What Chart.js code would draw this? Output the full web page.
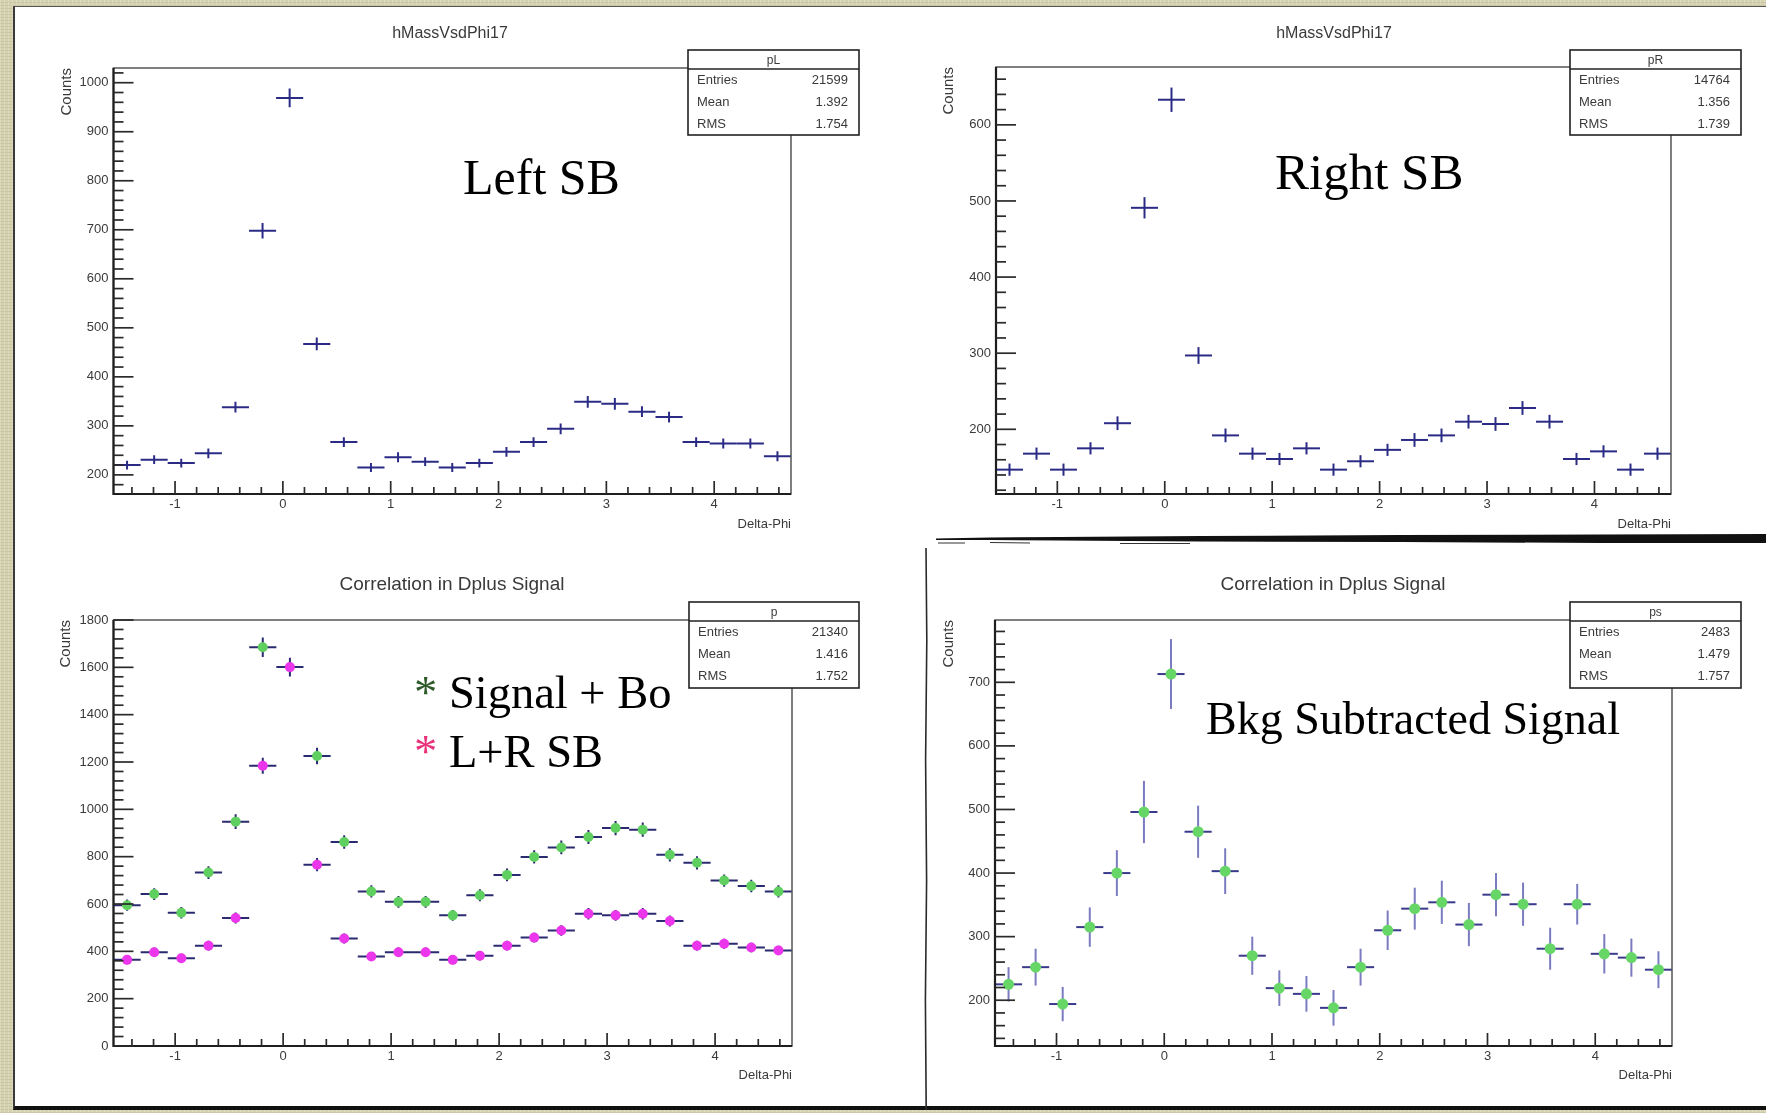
<!DOCTYPE html>
<html>
<head>
<meta charset="utf-8">
<title>Delta-Phi correlations</title>
<script src="https://cdn.jsdelivr.net/npm/chart.js@4.4.1/dist/chart.umd.min.js"></script>
<style>
  html, body { margin: 0; padding: 0; }
  body {
    width: 1766px; height: 1113px; position: relative; overflow: hidden;
    background-color: #d5d2b1;
    background-image:
      repeating-linear-gradient(0deg, rgba(110,105,70,0.12) 0 1px, transparent 1px 3px),
      repeating-linear-gradient(90deg, rgba(255,255,235,0.22) 0 1px, transparent 1px 4px);
  }
  #sheet {
    position: absolute; left: 13px; top: 6px; width: 1753px; height: 1104px;
    background: #fff; box-sizing: border-box;
    border-left: 2px solid #3a3a3a; border-top: 1px solid #555; border-bottom: 4px solid #111;
  }
  canvas.pad { position: absolute; filter: blur(0.7px); }
  #ink { position: absolute; left: 0; top: 0; }
</style>
</head>
<body>
<div id="sheet"></div>
<canvas class="pad" id="padL"></canvas>
<canvas class="pad" id="padR"></canvas>
<canvas class="pad" id="padSig"></canvas>
<canvas class="pad" id="padSub"></canvas>

<svg id="ink" width="1766" height="1113" xmlns="http://www.w3.org/2000/svg">
  <!-- pen strokes separating the subtracted panel -->
  <path d="M936 538.5 L990 537.5 L1060 537 L1200 536 L1400 535 L1600 534.5 L1766 534
           L1766 543 L1600 543 L1400 542 L1200 541.5 L1060 540.5 L990 540 L936 540 Z" fill="#111"/>
  <path d="M938 543 L965 543 M990 542.5 L1030 543 M1120 543.5 L1190 543.5" stroke="#333" stroke-width="1" fill="none"/>
  <path d="M926 548 L926.8 640 L925.6 760 L926.6 880 L925.4 1000 L926.2 1110"
        stroke="#2a2a2a" stroke-width="1.6" fill="none"/>
  <g font-family="'Liberation Serif', 'Times New Roman', serif" fill="#000">
    <text x="463" y="194" font-size="50">Left SB</text>
    <text x="1275" y="189" font-size="51">Right SB</text>
    <text x="414" y="708" font-size="46.5"><tspan fill="#2f5a2a">*</tspan> Signal + Bo</text>
    <text x="414" y="767" font-size="46.5"><tspan fill="#e8327a">*</tspan> L+R SB</text>
    <text x="1206" y="734" font-size="46">Bkg Subtracted Signal</text>
  </g>
</svg>

<script>
// ---- binning: 25 bins over [-pi/2, 3pi/2] ----
const X_MIN = -Math.PI / 2;
const X_MAX = 3 * Math.PI / 2;
const BIN_HALF = 0.1257;
const binCenters = [-1.4451, -1.1938, -0.9425, -0.6912, -0.4398, -0.1885, 0.0628, 0.3142, 0.5655,
  0.8168, 1.0681, 1.3195, 1.5708, 1.8221, 2.0735, 2.3248, 2.5761, 2.8274, 3.0788, 3.3301,
  3.5814, 3.8327, 4.0841, 4.3354, 4.5867];
const xTickLabels = [-1, 0, 1, 2, 3, 4];

// ---- left sideband ----
const leftSB    = [220, 231, 224, 244, 338, 698, 969, 467, 267, 215, 236, 227, 215, 224, 247, 267, 294, 349, 345, 329, 318, 267, 264, 264, 238];
const leftSBErr = [9, 9, 9, 10, 11, 16, 19, 13, 10, 9, 10, 9, 9, 9, 10, 10, 11, 12, 12, 11, 11, 10, 10, 10, 10];
const leftYTicks = [200, 300, 400, 500, 600, 700, 800, 900, 1000];

// ---- right sideband ----
const rightSB    = [147, 168, 147, 175, 208, 491, 633, 297, 192, 168, 161, 175, 147, 158, 173, 186, 192, 210, 207, 228, 210, 161, 171, 147, 168];
const rightSBErr = [8, 8, 8, 8, 9, 14, 16, 11, 9, 8, 8, 8, 8, 8, 8, 9, 9, 9, 9, 9, 9, 8, 8, 8, 8];
const rightYTicks = [200, 300, 400, 500, 600];

// ---- signal region + summed sidebands ----
const sigPlusBkg    = [595, 642, 563, 733, 948, 1685, 2312, 1225, 862, 653, 609, 609, 552, 637, 723, 799, 839, 883, 921, 914, 808, 774, 699, 676, 653];
const sigPlusBkgErr = [24, 25, 24, 27, 31, 41, 48, 35, 29, 26, 25, 25, 23, 25, 27, 28, 29, 30, 30, 30, 28, 28, 26, 26, 26];
const sideBands     = [364, 396, 371, 424, 541, 1184, 1601, 766, 454, 378, 396, 396, 364, 381, 424, 458, 488, 559, 552, 559, 528, 424, 432, 416, 404];
const sideBandsErr  = [19, 20, 19, 21, 23, 34, 40, 28, 21, 19, 20, 20, 19, 20, 21, 21, 22, 24, 23, 24, 23, 21, 21, 20, 20];
const sigYTicks = [0, 200, 400, 600, 800, 1000, 1200, 1400, 1600, 1800];

// ---- background subtracted ----
const bkgSub    = [225, 252, 194, 315, 400, 496, 713, 465, 403, 270, 219, 210, 188, 252, 310, 344, 354, 319, 366, 351, 281, 351, 273, 267, 248];
const bkgSubErr = [27, 29, 27, 31, 36, 49, 55, 41, 36, 30, 28, 28, 28, 29, 31, 33, 34, 34, 34, 34, 33, 32, 31, 30, 29];
const subYTicks = [200, 300, 400, 500, 600, 700];

// ---- stat boxes ----
const statsL   = { name: 'pL', rows: [['Entries', '21599'], ['Mean', '1.392'], ['RMS', '1.754']] };
const statsR   = { name: 'pR', rows: [['Entries', '14764'], ['Mean', '1.356'], ['RMS', '1.739']] };
const statsSig = { name: 'p',  rows: [['Entries', '21340'], ['Mean', '1.416'], ['RMS', '1.752']] };
const statsSub = { name: 'ps', rows: [['Entries', '2483'],  ['Mean', '1.479'], ['RMS', '1.757']] };

const SANS = "'Liberation Sans', Arial, sans-serif";
const INK = '#3a3a3a';
const Y_AXIS_W = 40;
const X_AXIS_H = 22;

const points = vals => binCenters.map((c, i) => ({ x: c, y: vals[i] }));

// error crosses: horizontal arm spans the bin, vertical arm the error
const errorCross = {
  id: 'errorCross',
  beforeDatasetsDraw(chart) {
    const { ctx, chartArea: a, scales: { x, y } } = chart;
    ctx.save();
    ctx.beginPath();
    ctx.rect(a.left, a.top, a.right - a.left, a.bottom - a.top);
    ctx.clip();
    chart.data.datasets.forEach(ds => {
      ds.data.forEach((p, i) => {
        const px = x.getPixelForValue(p.x);
        const py = y.getPixelForValue(p.y);
        const e = ds.errors[i];
        ctx.strokeStyle = ds.barColor;
        ctx.lineWidth = ds.barWidth;
        ctx.beginPath();
        ctx.moveTo(x.getPixelForValue(p.x - BIN_HALF), py);
        ctx.lineTo(x.getPixelForValue(p.x + BIN_HALF), py);
        ctx.stroke();
        ctx.strokeStyle = ds.vBarColor || ds.barColor;
        ctx.beginPath();
        ctx.moveTo(px, y.getPixelForValue(p.y - e));
        ctx.lineTo(px, y.getPixelForValue(p.y + e));
        ctx.stroke();
      });
    });
    ctx.restore();
  }
};

// ROOT-like frame, inward ticks, titles and the stat box
const rootFrame = {
  id: 'rootFrame',
  afterDraw(chart, args, o) {
    const { ctx, chartArea: a, scales: { x, y } } = chart;
    const ox = o.offset[0], oy = o.offset[1];
    ctx.save();

    ctx.strokeStyle = '#555';
    ctx.lineWidth = 1.5;
    ctx.strokeRect(a.left, a.top, a.right - a.left, a.bottom - a.top);
    ctx.strokeStyle = '#1e1e1e';
    ctx.lineWidth = 2.2;
    ctx.beginPath();
    ctx.moveTo(a.left, a.top);
    ctx.lineTo(a.left, a.bottom);
    ctx.lineTo(a.right, a.bottom);
    ctx.stroke();

    // x ticks: major every 1, minor every 0.2
    ctx.lineWidth = 1.7;
    ctx.strokeStyle = '#2a2a2a';
    for (let k = Math.ceil(X_MIN / 0.2); k * 0.2 <= X_MAX; k++) {
      const px = x.getPixelForValue(k * 0.2);
      const len = k % 5 === 0 ? 13 : 7;
      ctx.beginPath();
      ctx.moveTo(px, a.bottom);
      ctx.lineTo(px, a.bottom - len);
      ctx.stroke();
    }
    // y ticks: minor step = major / 5
    const minor = o.yMajor / 5;
    for (let k = Math.ceil(y.min / minor); k * minor <= y.max; k++) {
      const py = y.getPixelForValue(k * minor);
      const len = k % 5 === 0 ? 20 : 10;
      ctx.beginPath();
      ctx.moveTo(a.left, py);
      ctx.lineTo(a.left + len, py);
      ctx.stroke();
    }

    // titles
    ctx.fillStyle = INK;
    ctx.textAlign = 'center';
    ctx.textBaseline = 'middle';
    ctx.font = `${o.titleSize}px ${SANS}`;
    ctx.fillText(o.title, o.titleAt[0] - ox, o.titleAt[1] - oy);

    ctx.font = `13px ${SANS}`;
    ctx.textAlign = 'right';
    ctx.fillText('Delta-Phi', a.right, o.deltaY - oy);

    ctx.save();
    ctx.translate(o.countsX - ox, a.top);
    ctx.rotate(-Math.PI / 2);
    ctx.font = `15px ${SANS}`;
    ctx.textAlign = 'right';
    ctx.fillText('Counts', 0, 0);
    ctx.restore();

    // stat box
    const [bx, by, bw, bh] = o.box;
    const l = bx - ox, t = by - oy;
    const head = 19;
    ctx.fillStyle = '#fff';
    ctx.fillRect(l, t, bw, bh);
    ctx.strokeStyle = '#222';
    ctx.lineWidth = 1.6;
    ctx.strokeRect(l, t, bw, bh);
    ctx.beginPath();
    ctx.moveTo(l, t + head);
    ctx.lineTo(l + bw, t + head);
    ctx.stroke();
    ctx.fillStyle = INK;
    ctx.font = `12px ${SANS}`;
    ctx.textAlign = 'center';
    ctx.fillText(o.stats.name, l + bw / 2, t + head / 2 + 1);
    const rowH = (bh - head) / o.stats.rows.length;
    ctx.font = `13px ${SANS}`;
    o.stats.rows.forEach(([label, val], i) => {
      const ry = t + head + rowH * (i + 0.5);
      ctx.textAlign = 'left';
      ctx.fillText(label, l + 9, ry);
      ctx.textAlign = 'right';
      ctx.fillText(val, l + bw - 11, ry);
    });

    ctx.restore();
  }
};

function makePad(id, cfg) {
  const el = document.getElementById(id);
  const c = cfg.canvas, f = cfg.frame;
  el.width = c.w; el.height = c.h;
  el.style.left = c.x + 'px'; el.style.top = c.y + 'px';
  el.style.width = c.w + 'px'; el.style.height = c.h + 'px';

  const tickFont = { family: SANS, size: 13 };
  return new Chart(el, {
    type: 'scatter',
    data: { datasets: cfg.datasets },
    options: {
      responsive: false,
      animation: false,
      events: [],
      layout: {
        padding: {
          left: f.l - c.x - Y_AXIS_W,
          top: f.t - c.y,
          right: c.x + c.w - f.r,
          bottom: c.y + c.h - f.b - X_AXIS_H
        }
      },
      plugins: {
        legend: { display: false },
        tooltip: { enabled: false },
        rootFrame: {
          offset: [c.x, c.y],
          yMajor: cfg.yMajor,
          title: cfg.title, titleAt: cfg.titleAt, titleSize: cfg.titleSize,
          countsX: cfg.countsX, deltaY: cfg.deltaY,
          stats: cfg.stats, box: cfg.box
        }
      },
      scales: {
        x: {
          type: 'linear', min: X_MIN, max: X_MAX,
          grid: { display: false, drawTicks: false },
          border: { display: false },
          afterBuildTicks: s => { s.ticks = xTickLabels.map(v => ({ value: v })); },
          afterFit: s => { s.height = X_AXIS_H; },
          ticks: { padding: 3, color: INK, font: tickFont, maxRotation: 0, autoSkip: false,
                   callback: v => String(v) }
        },
        y: {
          type: 'linear', min: cfg.yMin, max: cfg.yMax,
          grid: { display: false, drawTicks: false },
          border: { display: false },
          afterBuildTicks: s => { s.ticks = cfg.yTicks.map(v => ({ value: v })); },
          afterFit: s => { s.width = Y_AXIS_W; },
          ticks: { padding: 5, color: INK, font: tickFont, autoSkip: false,
                   callback: v => String(v) }
        }
      }
    },
    plugins: [errorCross, rootFrame]
  });
}

const NAVY = '#2b2b86';

makePad('padL', {
  canvas: { x: 13, y: 7, w: 867, h: 533 },
  frame: { l: 113.5, t: 68, r: 791, b: 494 },
  yMin: 161, yMax: 1030, yMajor: 100, yTicks: leftYTicks,
  title: 'hMassVsdPhi17', titleAt: [450, 34], titleSize: 16,
  countsX: 67, deltaY: 524,
  stats: statsL, box: [688, 50, 171, 85],
  datasets: [{ data: points(leftSB), errors: leftSBErr, barColor: NAVY, barWidth: 2, pointRadius: 0 }]
});

makePad('padR', {
  canvas: { x: 885, y: 7, w: 881, h: 533 },
  frame: { l: 996, t: 67, r: 1671, b: 494 },
  yMin: 115, yMax: 676, yMajor: 100, yTicks: rightYTicks,
  title: 'hMassVsdPhi17', titleAt: [1334, 34], titleSize: 16,
  countsX: 949, deltaY: 524,
  stats: statsR, box: [1570, 50, 171, 85],
  datasets: [{ data: points(rightSB), errors: rightSBErr, barColor: NAVY, barWidth: 2, pointRadius: 0 }]
});

makePad('padSig', {
  canvas: { x: 13, y: 545, w: 900, h: 565 },
  frame: { l: 113.5, t: 620, r: 792, b: 1046 },
  yMin: 0, yMax: 1800, yMajor: 200, yTicks: sigYTicks,
  title: 'Correlation in Dplus Signal', titleAt: [452, 585], titleSize: 19,
  countsX: 66, deltaY: 1075,
  stats: statsSig, box: [689, 602, 170, 86],
  datasets: [
    { data: points(sigPlusBkg), errors: sigPlusBkgErr, barColor: '#2a2a70', barWidth: 2,
      pointRadius: 5, pointBackgroundColor: '#5fcf5f', pointBorderWidth: 0 },
    { data: points(sideBands), errors: sideBandsErr, barColor: '#2a2a70', barWidth: 2,
      pointRadius: 5, pointBackgroundColor: '#ec36ec', pointBorderWidth: 0 }
  ]
});

makePad('padSub', {
  canvas: { x: 927, y: 545, w: 839, h: 565 },
  frame: { l: 995, t: 620, r: 1672, b: 1046 },
  yMin: 128, yMax: 798, yMajor: 100, yTicks: subYTicks,
  title: 'Correlation in Dplus Signal', titleAt: [1333, 585], titleSize: 19,
  countsX: 949, deltaY: 1075,
  stats: statsSub, box: [1570, 602, 171, 86],
  datasets: [
    { data: points(bkgSub), errors: bkgSubErr, barColor: '#3a3a8c', vBarColor: '#7b7bc0', barWidth: 2,
      pointRadius: 5.5, pointBackgroundColor: '#66d666', pointBorderWidth: 0 }
  ]
});
</script>
</body>
</html>
